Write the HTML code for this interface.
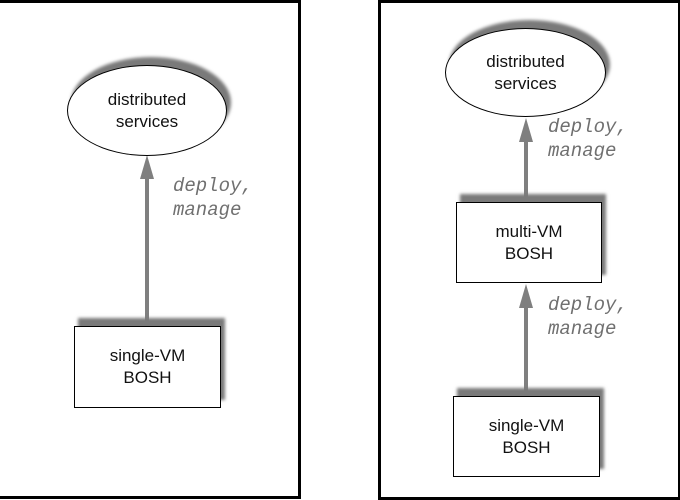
<!DOCTYPE html>
<html><head><style>
body{margin:0;width:680px;height:500px;background:#fff;position:relative;overflow:hidden;font-family:"Liberation Sans",sans-serif}
.p{position:absolute;border:3px solid #000;box-sizing:border-box}
.b{position:absolute;background:#fff;border:1.5px solid #000;box-sizing:border-box;box-shadow:4px -8px 3px #7a7a7a;display:flex;align-items:center;justify-content:center;text-align:center;font-size:17px;line-height:22px;color:#111}
.e{border-radius:50%}
.l{position:absolute;width:4px;background:#7f7f7f}
.a{position:absolute;width:0;height:0;border-left:7px solid transparent;border-right:7px solid transparent;border-bottom:24px solid #7f7f7f}
.t{position:absolute;font-family:"Liberation Mono",monospace;font-style:italic;font-size:19px;line-height:24px;color:#707070;white-space:pre}
</style></head><body>
<div class="p" style="left:-3px;top:0;width:304px;height:499px"></div>
<div class="p" style="left:378px;top:0;width:303px;height:500px"></div>

<div class="l" style="left:145px;top:170px;height:152px"></div>
<div class="a" style="left:140px;top:155px"></div>
<div class="b e" style="left:67px;top:65px;width:160px;height:91px">distributed<br>services</div>
<div class="t" style="left:173px;top:174px">deploy,
manage</div>
<div class="b" style="left:74px;top:326px;width:147px;height:82px">single-VM<br>BOSH</div>

<div class="l" style="left:524px;top:134px;height:64px"></div>
<div class="a" style="left:519px;top:118px"></div>
<div class="b e" style="left:445px;top:28px;width:161px;height:89px">distributed<br>services</div>
<div class="t" style="left:548px;top:115px">deploy,
manage</div>
<div class="b" style="left:456px;top:202px;width:146px;height:81px">multi-VM<br>BOSH</div>

<div class="l" style="left:524px;top:299px;height:95px"></div>
<div class="a" style="left:519px;top:284px"></div>
<div class="t" style="left:548px;top:293px">deploy,
manage</div>
<div class="b" style="left:453px;top:396px;width:147px;height:81px">single-VM<br>BOSH</div>
</body></html>
